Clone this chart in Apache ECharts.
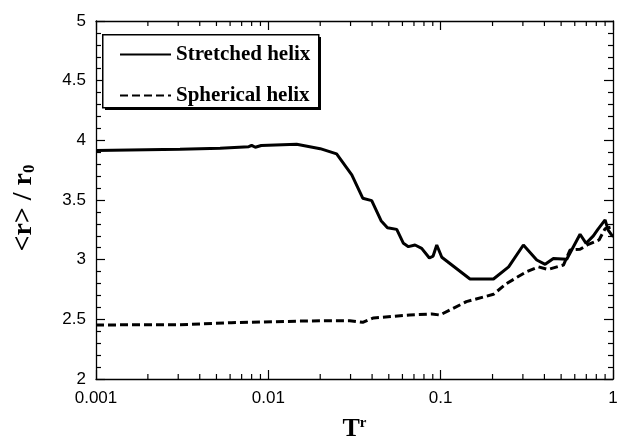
<!DOCTYPE html>
<html>
<head>
<meta charset="utf-8">
<script src="https://cdn.jsdelivr.net/npm/echarts@6/dist/echarts.min.js"></script>
<style>html,body{margin:0;padding:0;background:#fff}#c{width:617px;height:438px}</style>
</head>
<body>
<div id="c"></div>
<script>
// Stretched helix (solid)
const stretchedT = [0.001,0.00307,0.00525,0.0077,0.0080,0.0084,0.0091,0.0146,0.020,0.0249,0.0305,0.0353,0.0398,0.0451,0.0491,0.0556,0.0608,0.065,0.071,0.0776,0.086,0.0904,0.0949,0.1015,0.148,0.2025,0.248,0.302,0.361,0.404,0.451,0.539,0.644,0.698,0.769,0.817,0.9,0.936,0.99,1.0];
const stretchedR = [3.915,3.925,3.934,3.947,3.958,3.942,3.957,3.967,3.930,3.886,3.71,3.515,3.495,3.327,3.268,3.254,3.137,3.109,3.123,3.095,3.014,3.03,3.123,3.02,2.838,2.838,2.94,3.123,2.997,2.961,3.01,3.003,3.213,3.137,3.199,3.254,3.333,3.249,3.199,3.2];
// Spherical helix (dashed)
const sphericalT = [0.001,0.00307,0.0061,0.0153,0.0218,0.0297,0.0353,0.0408,0.0661,0.0888,0.099,0.141,0.2025,0.241,0.315,0.369,0.42,0.516,0.563,0.644,0.708,0.83,0.9,1.0];
const sphericalR = [2.453,2.455,2.472,2.485,2.489,2.489,2.475,2.512,2.536,2.545,2.536,2.648,2.71,2.80,2.899,2.94,2.918,2.955,3.081,3.087,3.123,3.165,3.26,3.277];
const seriesNames = ['Stretched helix','Spherical helix'];
const decades = [0.001,0.01,0.1];
const minorMultipliers = [2,3,4,5,6,7,8,9];

const minorTicks = [];
decades.forEach(d => minorMultipliers.forEach(m => minorTicks.push([+(d*m).toPrecision(3), 2])));

const zip = (a,b) => a.map((v,i)=>[v,b[i]]);
const axisLine = {lineStyle:{color:'#000',width:1.3}};
const labelFont = {color:'#000',fontFamily:'Liberation Sans',fontSize:17};

const chart = echarts.init(document.getElementById('c'));
chart.setOption({
  animation:false,
  backgroundColor:'#fff',
  grid:{left:96,right:4,top:21,bottom:59,outerBoundsMode:'none',containLabel:false},
  graphic:{elements:[
    {type:'rect',id:'shadow',z:5,left:105,top:37,shape:{width:216,height:73},style:{fill:'#000'}},
    {type:'rect',id:'box',z:6,left:102,top:34,shape:{width:216,height:73},style:{fill:'#fff',stroke:'#000',lineWidth:1.5}}
  ]},
  legend:{
    data:seriesNames, orient:'vertical', left:102, top:34, z:10,
    padding:[10,10,10,17], itemWidth:51, itemHeight:14, itemGap:20,
    itemStyle:{opacity:0},
    textStyle:{fontFamily:'Liberation Serif',fontWeight:'bold',fontSize:21,color:'#000'}
  },
  xAxis:[{
    type:'log', logBase:10, min:0.001, max:1,
    axisLine, axisTick:{inside:true,length:9,lineStyle:{color:'#000',width:1.2}},
    axisLabel:{...labelFont, margin:11, formatter:v=>String(v)},
    splitLine:{show:false},
    name:'{t|T}{s|r}', nameLocation:'middle', nameGap:37,
    nameTextStyle:{rich:{
      t:{fontFamily:'Liberation Serif',fontWeight:'bold',fontSize:26,color:'#000'},
      s:{fontFamily:'Liberation Serif',fontWeight:'bold',fontSize:15,color:'#000',verticalAlign:'top',padding:[0,0,10,0]}
    }}
  },{
    type:'log', logBase:10, min:0.001, max:1, position:'top',
    axisLine, axisTick:{inside:true,length:9,lineStyle:{color:'#000',width:1.2}},
    axisLabel:{show:false}, splitLine:{show:false}
  }],
  yAxis:[{
    type:'value', min:2, max:5, interval:0.5,
    axisLine:{show:true,...axisLine},
    axisTick:{show:true,inside:true,length:9,lineStyle:{color:'#000',width:1.2}},
    minorTick:{show:true,splitNumber:5,length:5,lineStyle:{color:'#000',width:1.2}},
    axisLabel:{...labelFont, margin:10},
    splitLine:{show:false},
    name:'{a|<r> / r}{s|0}', nameLocation:'middle', nameRotate:90, nameGap:58,
    nameTextStyle:{padding:[0,16,0,0],rich:{
      a:{fontFamily:'Liberation Serif',fontWeight:'bold',fontSize:28,color:'#000'},
      s:{fontFamily:'Liberation Serif',fontWeight:'bold',fontSize:17,color:'#000',padding:[12,0,0,0]}
    }}
  },{
    type:'value', min:2, max:5, interval:0.5, position:'right',
    axisLine:{show:true,...axisLine},
    axisTick:{show:true,inside:true,length:9,lineStyle:{color:'#000',width:1.2}},
    minorTick:{show:true,splitNumber:5,length:5,lineStyle:{color:'#000',width:1.2}},
    axisLabel:{show:false}, splitLine:{show:false}
  }],
  series:[{
    name:seriesNames[0], type:'line', data:zip(stretchedT,stretchedR),
    symbol:'none', lineStyle:{color:'#000',width:3}, itemStyle:{color:'#000'}
  },{
    name:seriesNames[1], type:'line', data:zip(sphericalT,sphericalR),
    symbol:'none', lineStyle:{color:'#000',width:3,type:[8,4]}, itemStyle:{color:'#000'}
  },{
    name:'minorTicks', type:'custom', data:minorTicks, clip:false, silent:true,
    encode:{x:0,y:1},
    renderItem:(params, api) => {
      const v = api.value(0);
      const b = api.coord([v,2]);
      const t = api.coord([v,5]);
      const st = {stroke:'#000',lineWidth:1.2};
      return {type:'group',children:[
        {type:'line',shape:{x1:b[0],y1:b[1],x2:b[0],y2:b[1]-5},style:st},
        {type:'line',shape:{x1:t[0],y1:t[1],x2:t[0],y2:t[1]+5},style:st}
      ]};
    }
  }]
});
</script>
</body>
</html>
